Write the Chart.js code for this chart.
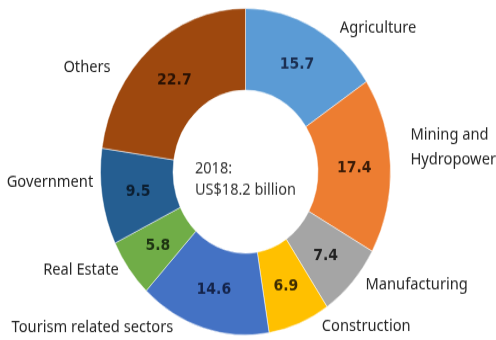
<!DOCTYPE html>
<html>
<head>
<meta charset="utf-8">
<script src="https://cdn.jsdelivr.net/npm/chart.js@4/dist/chart.umd.min.js"></script>
<style>
  html { overflow: hidden; }
  html, body { margin: 0; padding: 0; background: #fff; height: 340px; }
  /* the ring is drawn slightly taller than wide */
  #wrap { width: 496px; height: 302px; transform: scaleY(1.1258); transform-origin: 0 0; }
  canvas { display: block; }
</style>
</head>
<body>
<div id="wrap"><canvas id="gdp" width="496" height="302"></canvas></div>
<script>
const sectors = ['Agriculture', ['Mining and', 'Hydropower'], 'Manufacturing', 'Construction',
  'Tourism related sectors', 'Real Estate', 'Government', 'Others'];
const shares = [15.7, 17.4, 7.4, 6.9, 14.6, 5.8, 9.5, 22.7];
const centerLines = ['2018:', 'US$18.2 billion'];

const colors = ['#5B9BD5', '#ED7D31', '#A5A5A5', '#FFC000', '#4472C4', '#70AD47', '#255E91', '#9E480E'];
const valueColors = ['#1b2f52', '#3b1c08', '#222222', '#3d2c00', '#14234a', '#1d3312', '#0c1e30', '#2a1204'];

// where each sector name sits, relative to the outer edge of its slice
const labelNudge = [[25.6, 0], [20, -16], [13, 2.6], [22.5, 2.2], [-30, 0], [-10, 1], [-9, -13], [-40, 17]];

const labelsPlugin = {
    id: 'sliceLabels',
    afterDraw(chart) {
        const ctx = chart.ctx;
        const meta = chart.getDatasetMeta(0);
        ctx.save();
        ctx.textBaseline = 'middle';
        meta.data.forEach((arc, i) => {
            const p = arc.getProps(['x', 'y', 'startAngle', 'endAngle', 'innerRadius', 'outerRadius'], true);
            const mid = (p.startAngle + p.endAngle) / 2;
            const cos = Math.cos(mid), sin = Math.sin(mid);

            // value inside the ring
            const r = (p.innerRadius + p.outerRadius) / 2;
            ctx.font = 'bold 14px "DejaVu Sans"';
            ctx.textAlign = 'center';
            ctx.fillStyle = valueColors[i];
            ctx.fillText(shares[i].toFixed(1), p.x + cos * r, p.y + sin * r + 1);

            // sector name outside
            const ax = p.x + cos * p.outerRadius + labelNudge[i][0];
            const ay = p.y + sin * p.outerRadius + labelNudge[i][1];
            ctx.font = '14.7px "Noto Sans"';
            ctx.textAlign = cos >= 0 ? 'left' : 'right';
            ctx.fillStyle = '#262626';
            const lines = Array.isArray(sectors[i]) ? sectors[i] : [sectors[i]];
            const lh = 22.2;
            lines.forEach((line, k) => {
                ctx.fillText(line, ax, ay + (k - (lines.length - 1) / 2) * lh);
            });
        });

        // total in the hole
        const c = meta.data[0];
        ctx.font = '14.5px "Noto Sans"';
        ctx.fillStyle = '#333333';
        ctx.textAlign = 'left';
        const w = ctx.measureText(centerLines[1]).width;
        const left = c.x - w / 2;
        ctx.fillText(centerLines[0], left, c.y - 3);
        ctx.fillText(centerLines[1], left, c.y + 16.5);
        ctx.restore();
    }
};

new Chart(document.getElementById('gdp'), {
    type: 'doughnut',
    data: {
        labels: sectors.map(s => Array.isArray(s) ? s.join(' ') : s),
        datasets: [{
            data: shares,
            backgroundColor: colors,
            borderColor: 'rgba(255,255,255,0.5)',
            borderWidth: 1
        }]
    },
    options: {
        responsive: false,
        animation: false,
        devicePixelRatio: 1,
        cutout: '50%',
        layout: { padding: { left: 100, right: 105, top: 7, bottom: 4 } },
        plugins: {
            legend: { display: false },
            tooltip: { enabled: false }
        }
    },
    plugins: [labelsPlugin]
});
</script>
</body>
</html>
